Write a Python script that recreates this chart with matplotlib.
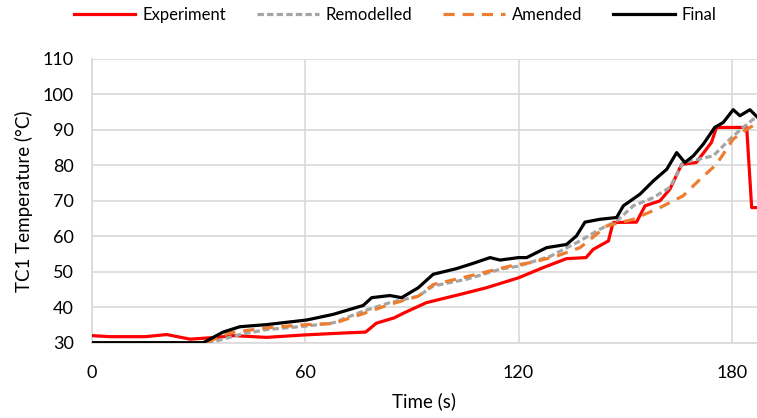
import numpy as np
import matplotlib.pyplot as plt

plt.rcParams['font.family'] = ['Lato', 'DejaVu Sans']

# TC1 readings (time in s, temperature in degC)
exp_t = [0, 5, 15, 21, 27.6, 35, 40, 49, 60, 70, 77, 80, 85, 88, 94.1, 103.5, 111, 120,
         127, 133.5, 139, 141, 145.3, 146.6, 153.2, 155.6, 159.8, 162.6, 165.9, 170,
         174.3, 175.7, 184.2, 185.6, 188]
exp_T = [32, 31.7, 31.7, 32.3, 31, 31.5, 32, 31.5, 32.2, 32.7, 33, 35.5, 37, 38.5, 41.3,
         43.6, 45.5, 48.3, 51.2, 53.7, 54, 56.3, 58.7, 63.9, 64, 68.6, 70, 73.3, 80.3,
         80.8, 86.5, 90.7, 90.7, 68.1, 68.1]

rem_t = [0, 33.2, 41.6, 49.1, 60.4, 67.9, 76.3, 83.8, 91.8, 96, 105.4, 114.8, 120, 129,
         137.3, 142.9, 147.6, 152.3, 157.9, 162.6, 166.3, 171, 174.8, 180.4, 186, 188]
rem_T = [30, 30, 32.3, 33.7, 34.7, 35.6, 38.9, 41.3, 43.1, 46, 47.9, 50.7, 51.6, 54.4,
         58.7, 62, 64.3, 68.6, 70.9, 73.8, 80.8, 81.8, 82.7, 88.3, 93, 93.6]

amd_t = [0, 32, 38.8, 49.1, 60.4, 67.9, 76.3, 83.8, 91.8, 96, 105.4, 117.6, 124.1, 130.7,
         137.3, 144.8, 152.3, 159.8, 166.3, 171, 175.7, 180.4, 184.2, 188]
amd_T = [30, 30, 32.8, 34.2, 35.1, 35.4, 38.2, 40.8, 43.1, 46.4, 48.6, 51.6, 52.7, 54.4,
         56.8, 62.9, 64.8, 68.1, 71.4, 76, 80.3, 87.4, 90.2, 92.3]

fin_t = [0, 31.3, 36.9, 41.6, 49.1, 60.4, 67.9, 76.3, 78.7, 83.8, 87.1, 91.8, 96, 102.6,
         107.3, 112, 114.8, 120, 122.3, 127.9, 133.5, 136.3, 138.7, 142.9, 147.6, 149.5,
         154.2, 157.9, 161.7, 164.5, 166.8, 169.2, 172, 175.2, 177.6, 180.4, 182.3,
         185.1, 187]
fin_T = [30, 30, 33, 34.5, 35.1, 36.4, 38, 40.5, 42.7, 43.3, 42.7, 45.5, 49.3, 50.9,
         52.4, 54, 53.3, 54, 54, 56.8, 57.7, 60.1, 64, 64.8, 65.3, 68.6, 71.9, 75.6,
         78.9, 83.6, 80.8, 82.7, 86, 90.7, 92.1, 95.7, 94, 95.7, 93.8]

grid_c = '#d9d9d9'

fig = plt.figure(figsize=(7.57, 4.18), dpi=100)
ax = fig.add_axes([92 / 757, 1 - 342.7 / 418, 665 / 757, (342.7 - 59) / 418])

ax.plot(exp_t, exp_T, color='#ff0000', lw=2.3, label='Experiment', zorder=3)
ax.plot(rem_t, rem_T, color='#a5a5a5', lw=2.3, ls=(0, (2, 1)), label='Remodelled', zorder=4)
ax.plot(amd_t, amd_T, color='#ed7d31', lw=2.3, ls=(0, (3.5, 2.5)), label='Amended', zorder=4)
ax.plot(fin_t, fin_T, color='black', lw=2.3, label='Final', zorder=5)

ax.set_xlim(0, 187.1)
ax.set_ylim(30, 110)
ax.set_xticks([0, 60, 120, 180])
ax.set_yticks(np.arange(30, 111, 10))
ax.grid(True, color=grid_c, lw=1.2)
ax.set_axisbelow(True)
for s in ['top', 'right']:
    ax.spines[s].set_visible(False)
for s in ['left', 'bottom']:
    ax.spines[s].set_color(grid_c)
    ax.spines[s].set_linewidth(1.2)
ax.tick_params(length=0, labelsize=13, colors='black')
ax.tick_params(axis='y', pad=13)
ax.tick_params(axis='x', pad=16)

ax.set_xlabel('Time (s)', fontsize=13.5, labelpad=8)
ax.set_ylabel('TC1 Temperature (°C)', fontsize=13.5, labelpad=7)

fig.legend(loc='center', bbox_to_anchor=(0.522, 0.964), ncol=4, frameon=False,
           fontsize=12, handlelength=3.7, columnspacing=1.86, handletextpad=0.42)

fig.savefig('out.png', dpi=100)
